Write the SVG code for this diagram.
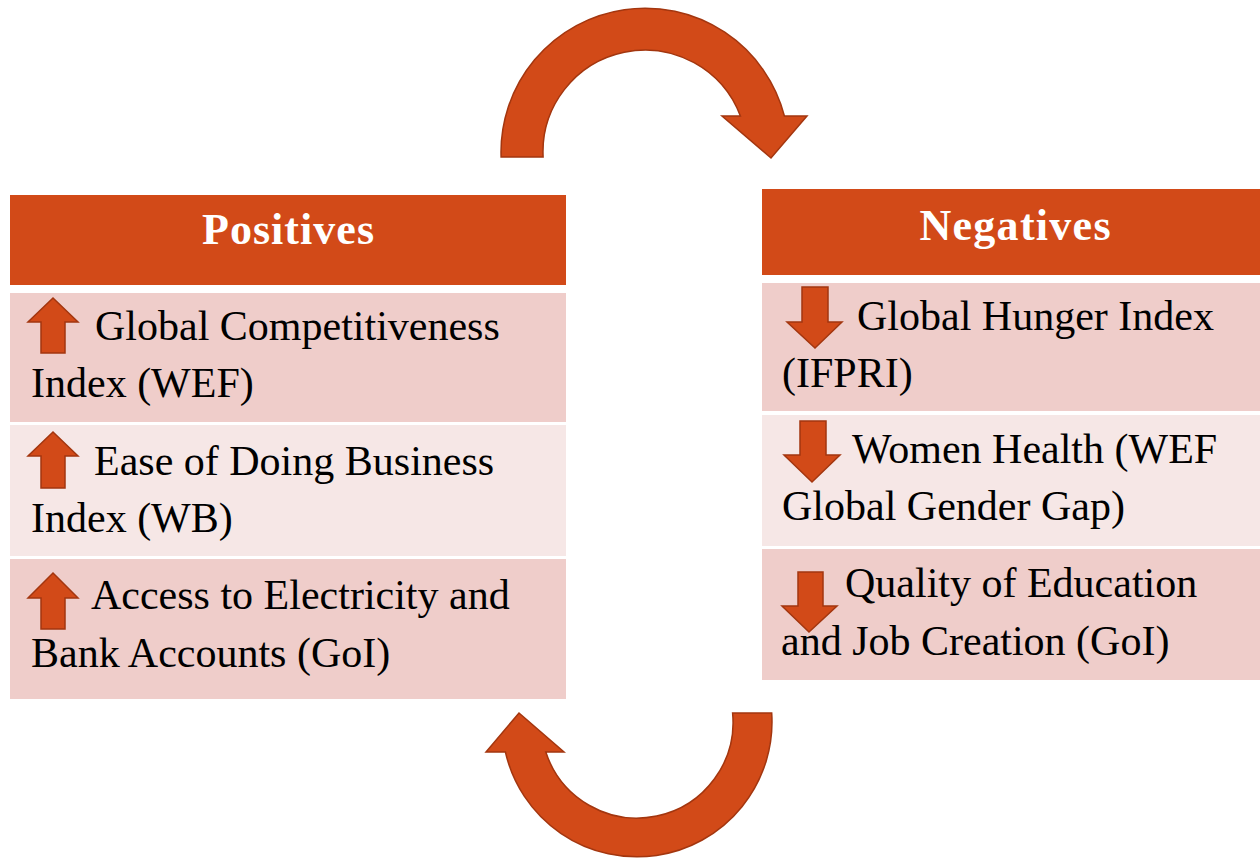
<svg xmlns="http://www.w3.org/2000/svg" width="1260" height="859" viewBox="0 0 1260 859">
<style>
.hdr{fill:#D24A18}
.dark{fill:#EFCDCA}
.light{fill:#F6E7E6}
.ht{font-family:"Liberation Serif",serif;font-weight:bold;font-size:44px;fill:#FFFFFF;text-anchor:middle}
.t{font-family:"Liberation Serif",serif;font-size:42px;fill:#000000}
.arr{fill:#D24A18;stroke:#A3360F;stroke-width:1.5;stroke-linejoin:miter}
</style>
<rect width="1260" height="859" fill="#FFFFFF"/>
<g id="connectors">
<path class="arr" d="M501.1,157 A144,144 0 0 1 784.4,116 L807,116 L771,158 L722,116 L740.4,116 A102,102 0 0 0 543.1,157 Z"/>
<path class="arr" d="M771.7,713 A135,135 0 0 1 505.4,752 L486,752 L519,713 L564,752 L545.8,752 A96,96 0 0 0 732.6,713 Z"/>
</g>
<g id="positives-header">
<rect class="hdr" x="10" y="195" width="556" height="90"/>
<text class="ht" x="288" y="244" textLength="172">Positives</text>
</g>
<g id="pos-1">
<rect class="dark" x="10" y="293" width="556" height="129"/>
<path class="arr" d="M53,298 L78,322 L65,322 L65,353 L41,353 L41,322 L28,322 Z"/>
<text class="t" x="95" y="340">Global Competitiveness</text>
<text class="t" x="31" y="397">Index (WEF)</text>
</g>
<g id="pos-2">
<rect class="light" x="10" y="425" width="556" height="131"/>
<path class="arr" d="M53,432 L78,456 L65,456 L65,488 L41,488 L41,456 L28,456 Z"/>
<text class="t" x="94" y="475">Ease of Doing Business</text>
<text class="t" x="31" y="532">Index (WB)</text>
</g>
<g id="pos-3">
<rect class="dark" x="10" y="559" width="556" height="140"/>
<path class="arr" d="M53,573 L78,598 L65,598 L65,629 L41,629 L41,598 L28,598 Z"/>
<text class="t" x="91" y="609">Access to Electricity and</text>
<text class="t" x="31" y="667">Bank Accounts (GoI)</text>
</g>
<g id="negatives-header">
<rect class="hdr" x="762" y="189" width="498" height="86"/>
<text class="ht" x="1015" y="240" textLength="191">Negatives</text>
</g>
<g id="neg-1">
<rect class="dark" x="762" y="283" width="498" height="128"/>
<path class="arr" d="M802,287 L828,287 L828,322 L842,322 L815,348 L787,322 L802,322 Z"/>
<text class="t" x="857" y="330">Global Hunger Index</text>
<text class="t" x="782" y="387">(IFPRI)</text>
</g>
<g id="neg-2">
<rect class="light" x="762" y="415" width="498" height="131"/>
<path class="arr" d="M800,421 L826,421 L826,455 L840,455 L812,482 L784,455 L800,455 Z"/>
<text class="t" x="852" y="463">Women Health (WEF</text>
<text class="t" x="782" y="520">Global Gender Gap)</text>
</g>
<g id="neg-3">
<rect class="dark" x="762" y="549" width="498" height="131"/>
<path class="arr" d="M798,572 L823,572 L823,606 L837,606 L809,632 L782,606 L798,606 Z"/>
<text class="t" x="845" y="597">Quality of Education</text>
<text class="t" x="781" y="655">and Job Creation (GoI)</text>
</g>
</svg>
